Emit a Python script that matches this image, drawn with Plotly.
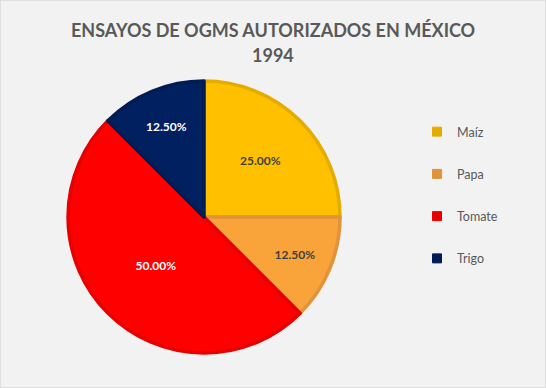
import plotly.graph_objects as go

categories = ["Maíz", "Papa", "Tomate", "Trigo"]
values = [25.0, 12.5, 50.0, 12.5]
fill_colors = ["#FFC000", "#F9A33B", "#FF0000", "#002060"]
line_colors = ["#E5AC00", "#E0933A", "#E60000", "#001C55"]
text_colors = ["#404040", "#404040", "#FFFFFF", "#FFFFFF"]
title_lines = ["ENSAYOS DE OGMS AUTORIZADOS EN MÉXICO", "1994"]

W, H = 546, 388
cx, cy, r = 204, 217, 136

fig = go.Figure()
fig.add_trace(go.Pie(
    labels=categories,
    values=values,
    sort=False,
    direction="clockwise",
    rotation=0,
    marker=dict(colors=fill_colors, line=dict(color=line_colors, width=3.5)),
    texttemplate="%{percent:.2%}",
    textposition="inside",
    insidetextorientation="horizontal",
    textfont=dict(family="Lato", size=12, color=text_colors, weight="bold"),
    hoverinfo="label+percent",
    showlegend=False,
    domain=dict(x=[(cx - r) / W, (cx + r) / W], y=[(H - cy - r) / H, (H - cy + r) / H]),
))

for name, fc, lc in zip(categories, fill_colors, line_colors):
    fig.add_trace(go.Scatter(
        x=[None], y=[None], mode="markers", name=name, legendgroup=name,
        marker=dict(symbol="square", size=9, color=lc, line=dict(color=lc, width=1)),
        showlegend=True,
    ))

title_font = dict(family="Lato", size=18, color="#595959")
fig.update_layout(
    width=W, height=H,
    margin=dict(l=0, r=0, t=0, b=0),
    paper_bgcolor="#F2F2F2",
    plot_bgcolor="#F2F2F2",
    xaxis=dict(visible=False), yaxis=dict(visible=False),
    annotations=[
        dict(text="<b>" + line + "</b>", xref="paper", yref="paper", x=0.5, xanchor="center",
             y=1 - yc / H, yanchor="middle", showarrow=False, font=title_font)
        for line, yc in zip(title_lines, [30, 55])
    ],
    legend=dict(
        x=417 / W, xanchor="left", y=1 - 117 / H, yanchor="top",
        font=dict(family="Lato", size=12.5, color="#595959"),
        tracegroupgap=23, itemwidth=30, bgcolor="rgba(0,0,0,0)",
    ),
    shapes=[dict(type="rect", xref="paper", yref="paper", x0=0, y0=0, x1=1, y1=1,
                 line=dict(color="#D9D9D9", width=1.5))],
)

fig.write_html("out.html", config={"displayModeBar": False},
               post_script="document.body.style.margin='0';document.body.style.overflow='hidden';")
